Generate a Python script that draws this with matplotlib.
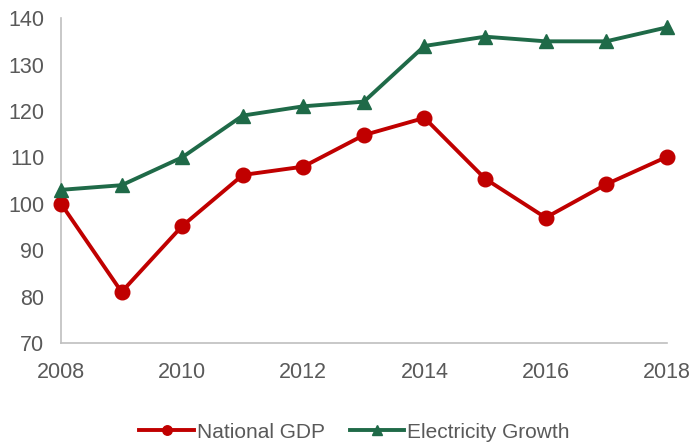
import numpy as np
import matplotlib.pyplot as plt

plt.rcParams['font.family'] = ['Liberation Sans', 'DejaVu Sans']

years = [2008, 2009, 2010, 2011, 2012, 2013, 2014, 2015, 2016, 2017, 2018]
gdp = [100, 81, 95.2, 106.2, 108, 114.8, 118.5, 105.4, 97, 104.2, 110.1]
electricity = [103, 104, 110, 119, 121, 122, 134, 136, 135, 135, 138]

fig = plt.figure(figsize=(6.91, 4.42), dpi=100)
ax = fig.add_axes([0.0883, 0.224, 0.8767, 0.735])

ax.plot(years, gdp, color='#C00000', lw=2.8, marker='o', ms=10.5,
        label='National GDP', clip_on=False, zorder=3)
ax.plot(years, electricity, color='#1F6A48', lw=2.8, marker='^', ms=10.5,
        label='Electricity Growth', clip_on=False, zorder=3)

ax.set_xlim(2008, 2018)
ax.set_ylim(70, 140)
ax.set_xticks(range(2008, 2019, 2))
ax.set_yticks(range(70, 141, 10))
ax.tick_params(length=0, labelsize=15.5, labelcolor='#595959')
ax.tick_params(axis='y', pad=12)
ax.tick_params(axis='x', pad=14)

for side in ['top', 'right']:
    ax.spines[side].set_visible(False)
for side in ['left', 'bottom']:
    ax.spines[side].set_color('#BFBFBF')
    ax.spines[side].set_linewidth(1.2)

leg = fig.legend(loc='center', bbox_to_anchor=(0.513, 0.022), ncol=2,
                 frameon=False, fontsize=15, handlelength=2.6,
                 columnspacing=1.2, handletextpad=0.15, markerscale=0.65)
for t in leg.get_texts():
    t.set_color('#595959')

fig.savefig('out.png', dpi=100)
